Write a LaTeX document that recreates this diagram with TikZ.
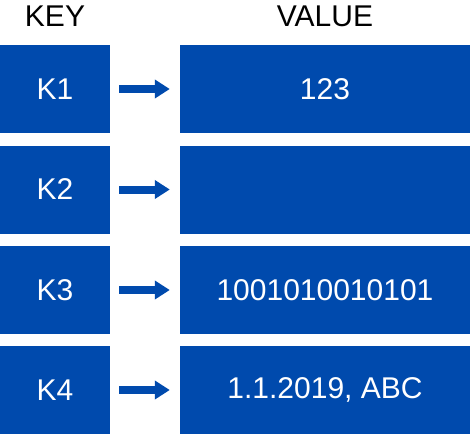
\documentclass[tikz,border=0pt]{standalone}
\usepackage{fontspec}
\setmainfont{Liberation Sans}
\usetikzlibrary{arrows.meta}
\definecolor{boxblue}{RGB}{0,74,173}

\tikzset{
  keybox/.style={fill=boxblue, text=white, minimum width=110pt, minimum height=88pt, inner sep=0pt, font=\fontsize{30}{36}\selectfont},
  valbox/.style={keybox, minimum width=290pt},
  head/.style={font=\fontsize{30}{36}\selectfont},
  maparrow/.style={boxblue, line width=8pt, -{Triangle[length=15pt, width=18pt]}, shorten <=9pt, shorten >=10pt}
}

\begin{document}
\begin{tikzpicture}[x=1pt, y=-1pt]
\useasboundingbox (0,0) rectangle (470,434);

\node [head] (hkey) at (55,16) {KEY};
\node [head] (hval) at (325,16) {VALUE};

\node [keybox] (k1) at (55,89) {K1};
\node [valbox] (v1) at (325,89) {123};
\node [keybox] (k2) at (55,189.5) {K2};
\node [valbox] (v2) at (325,189.5) {};
\node [keybox] (k3) at (55,290) {K3};
\node [valbox] (v3) at (325,290) {1001010010101};
\node [keybox] (k4) at (55,390) {K4};
\node [valbox] (v4) at (325,390) {1.1.2019, ABC};

\draw [maparrow] (k1) -- (v1);
\draw [maparrow] (k2) -- (v2);
\draw [maparrow] (k3) -- (v3);
\draw [maparrow] (k4) -- (v4);
\end{tikzpicture}
\end{document}
